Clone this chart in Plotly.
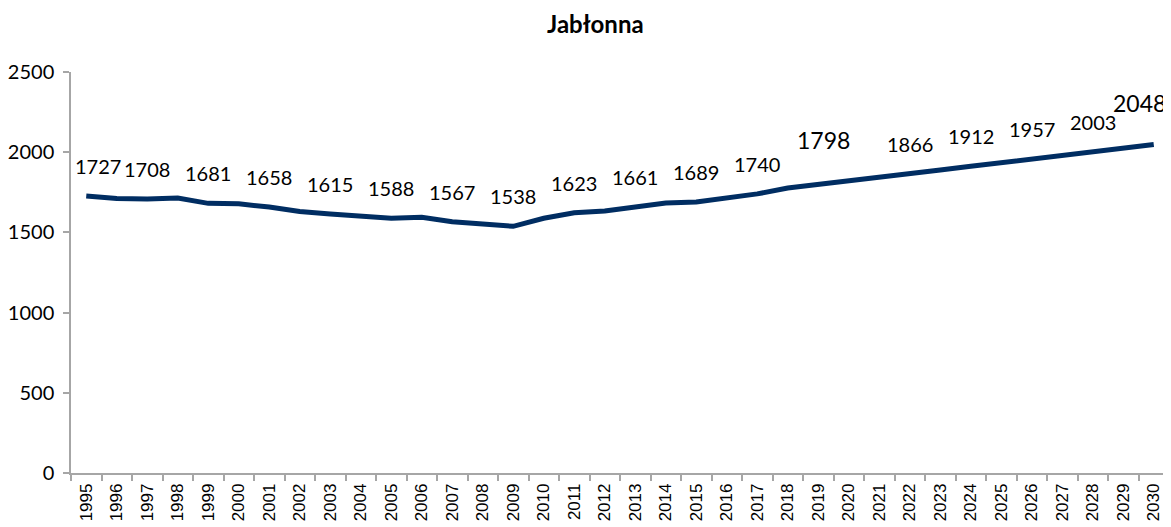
import plotly.graph_objects as go

years = [str(y) for y in range(1995, 2031)]
population = [1727, 1712, 1708, 1714, 1681, 1678, 1658, 1630, 1615, 1604,
              1588, 1595, 1567, 1553, 1538, 1588, 1623, 1634, 1661, 1683,
              1689, 1712, 1740, 1777, 1798, 1821, 1843, 1866, 1889, 1912,
              1935, 1957, 1980, 2003, 2026, 2048]

label_years = ["1995", "1997", "1999", "2001", "2003", "2005", "2007", "2009",
               "2011", "2013", "2015", "2017", "2019", "2022", "2024", "2026",
               "2028", "2030"]
big_labels = ["2019", "2030"]

title_text = "Jabłonna"
y_ticks = [0, 500, 1000, 1500, 2000, 2500]

LINE = "#002D62"
AXIS = "#A6A6A6"
FONT = "Lato"

# the page body has an 8px margin, so the figure is drawn 8px smaller
W, H = 1163, 519

fig = go.Figure()
fig.add_trace(go.Scatter(
    x=years, y=population, mode="lines",
    line=dict(color=LINE, width=5),
    hoverinfo="x+y", showlegend=False,
))

for yr in label_years:
    i = years.index(yr)
    v = population[i]
    big = yr in big_labels
    xs = 0
    ys = 30
    if yr == "1995":
        xs = 12
    if yr == "2019":
        xs = 5
        ys = 45
    if yr == "2030":
        xs = -14
        ys = 42
    fig.add_annotation(
        x=i, y=v, text=str(v), showarrow=False,
        xshift=xs, yshift=ys,
        font=dict(family=FONT, size=23 if big else 20, color="#000000"),
    )

fig.update_layout(
    width=W, height=H,
    margin=dict(l=63, r=2, t=64, b=54),
    paper_bgcolor="white", plot_bgcolor="white",
    title=dict(text="<b>" + title_text + "</b>", x=0.505, xref="container",
               xanchor="center", y=1 - 17 / H, yref="container", yanchor="middle",
               font=dict(family=FONT, size=24, color="#000000")),
    xaxis=dict(
        type="category", range=[-0.5, 35.5], tickson="boundaries",
        ticks="outside", ticklen=6, tickcolor=AXIS, tickwidth=1.5,
        showline=True, linecolor=AXIS, linewidth=1.5,
        showgrid=False, zeroline=False, tickangle=-90, automargin=False,
        ticklabelstandoff=2,
        tickfont=dict(family="Liberation Sans", size=17, color="#000000"),
    ),
    yaxis=dict(
        range=[0, 2500], tickvals=y_ticks,
        ticks="outside", ticklen=6, tickcolor=AXIS, tickwidth=1.5,
        showline=True, linecolor=AXIS, linewidth=1.5,
        showgrid=False, zeroline=False, automargin=False,
        ticklabelstandoff=5,
        tickfont=dict(family=FONT, size=20, color="#000000"),
    ),
)

fig.write_html("out.html")
